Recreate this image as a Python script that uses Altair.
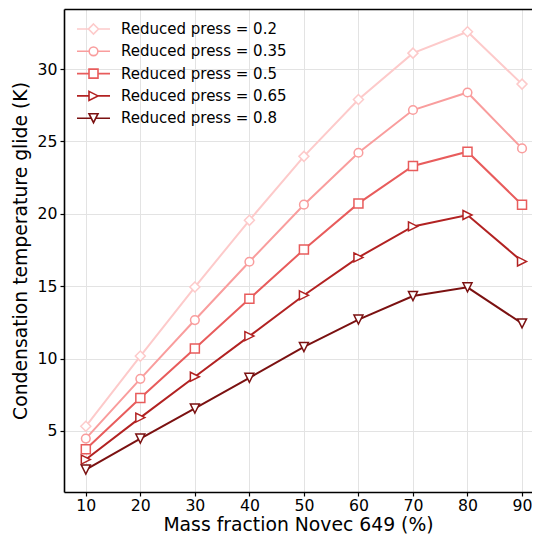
import altair as alt
import pandas as pd

# ---- data ----
mass_fraction = [10, 20, 30, 40, 50, 60, 70, 80, 90]
series_names = [
    "Reduced press = 0.2",
    "Reduced press = 0.35",
    "Reduced press = 0.5",
    "Reduced press = 0.65",
    "Reduced press = 0.8",
]
glide_p020 = [5.32, 10.17, 14.94, 19.55, 23.97, 27.90, 31.10, 32.58, 28.96]
glide_p035 = [4.47, 8.60, 12.66, 16.69, 20.63, 24.22, 27.17, 28.38, 24.52]
glide_p050 = [3.73, 7.28, 10.70, 14.13, 17.53, 20.72, 23.30, 24.29, 20.63]
glide_p065 = [3.02, 5.92, 8.74, 11.55, 14.37, 16.99, 19.13, 19.92, 16.71]
glide_p080 = [2.33, 4.47, 6.55, 8.67, 10.80, 12.69, 14.32, 14.92, 12.43]
x_ticks = [10, 20, 30, 40, 50, 60, 70, 80, 90]
y_ticks = [5, 10, 15, 20, 25, 30]

# ---- styles ----
colors = ["#fdcaca", "#f99d9d", "#e85c5c", "#b22222", "#7b1111"]
marker_shapes = [
    "diamond",
    "circle",
    "square",
    "M-1,-1L1,0L-1,1Z",
    "M-1,-1L1,-1L0,1Z",
]
marker_sizes = [100, 75, 81, 81, 81]
legend_paths = [
    "M0,-1L1,0L0,1L-1,0Z M-3.3,0L-1,0 M1,0L3.3,0",
    "M0.87,0A0.87,0.87,0,1,1,-0.87,0A0.87,0.87,0,1,1,0.87,0Z M-3.3,0L-0.87,0 M0.87,0L3.3,0",
    "M-0.9,-0.9L0.9,-0.9L0.9,0.9L-0.9,0.9Z M-3.3,0L-0.9,0 M0.9,0L3.3,0",
    "M-0.9,-0.9L0.9,0L-0.9,0.9Z M-3.3,0L-0.9,0 M0.9,0L3.3,0",
    "M-0.9,-0.9L0.9,-0.9L0,0.9Z M-3.3,0L-0.45,0 M0.45,0L3.3,0",
]

all_series = [glide_p020, glide_p035, glide_p050, glide_p065, glide_p080]
rows = []
for name, vals in zip(series_names, all_series):
    for xv, yv in zip(mass_fraction, vals):
        rows.append({"mass": xv, "glide": yv, "series": name})
df = pd.DataFrame(rows)

FONT = "DejaVu Sans"
x_scale = alt.Scale(domain=[6, 91.83], nice=False, zero=False)
y_scale = alt.Scale(domain=[0.78, 34.15], nice=False, zero=False)

x_enc = alt.X(
    "mass:Q",
    scale=x_scale,
    axis=alt.Axis(values=x_ticks, format="d", title="Mass fraction Novec 649 (%)",
                  titlePadding=3, labelPadding=2),
)
y_enc = alt.Y(
    "glide:Q",
    scale=y_scale,
    axis=alt.Axis(values=y_ticks, format="d", title="Condensation temperature glide (K)",
                  titlePadding=7, labelPadding=3),
)

base = alt.Chart(df)
layers = []
for name, color, shape, size in zip(series_names, colors, marker_shapes, marker_sizes):
    sub = base.transform_filter(alt.datum.series == name)
    layers.append(sub.mark_line(color=color, strokeWidth=2).encode(x=x_enc, y=y_enc))
    layers.append(
        sub.mark_point(shape=shape, size=size, filled=True, fill="white",
                       stroke=color, strokeWidth=1.5, opacity=1).encode(x=x_enc, y=y_enc)
    )

leg = alt.Legend(
    title=None, orient="none", legendX=22, legendY=12.5,
    labelFontSize=15, labelFont=FONT, labelColor="black", labelLimit=400,
    symbolSize=100, symbolStrokeWidth=1.6, symbolFillColor="white", symbolOpacity=1,
    rowPadding=5.3, labelOffset=20, padding=0,
)
legend_layer = base.transform_filter("false").mark_point(
    filled=True, fill="white", strokeWidth=1.6, opacity=1
).encode(
    x=x_enc, y=y_enc,
    stroke=alt.Stroke("series:N", scale=alt.Scale(domain=series_names, range=colors), legend=leg),
    shape=alt.Shape("series:N", scale=alt.Scale(domain=series_names, range=legend_paths), legend=leg),
)

top_spine = base.transform_filter("false").mark_point(opacity=0).encode(
    x=alt.X("mass:Q", scale=x_scale,
            axis=alt.Axis(orient="top", labels=False, ticks=False, grid=False, title=None)),
    y=y_enc,
)

chart = (
    alt.layer(alt.layer(*layers, legend_layer), top_spine)
    .resolve_axis(x="independent")
    .properties(
        width=468, height=483,
        padding={"left": 56, "top": 1, "right": 0, "bottom": 44},
        autosize=alt.AutoSizeParams(type="none"),
    )
    .configure_view(stroke=None)
    .configure_axis(
        labelFont=FONT, titleFont=FONT, labelFontSize=15.7, titleFontSize=18.8,
        labelColor="black", titleColor="black", titleFontWeight="normal",
        domainColor="black", domainWidth=1.6, tickColor="black", tickWidth=1.2, tickSize=4,
        gridColor="#e3e3e3", gridWidth=1,
    )
    .configure_legend(
        labelFont=FONT, labelFontSize=15, labelColor="black", labelLimit=400,
        symbolStrokeWidth=1.6, rowPadding=5.3, labelOffset=20, padding=0,
    )
)

chart.save("out.html", embed_options={"renderer": "svg", "actions": False})
